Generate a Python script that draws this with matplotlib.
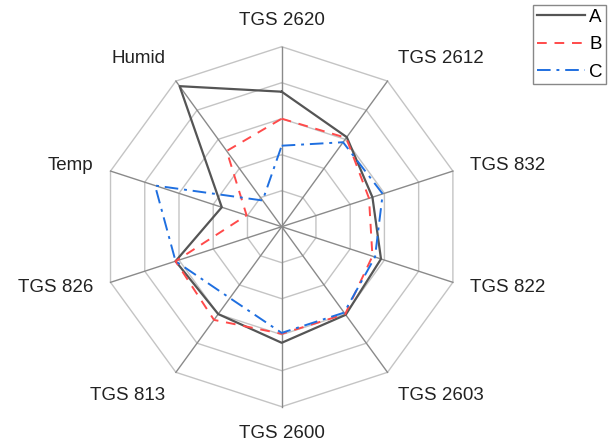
import matplotlib.pyplot as plt
import numpy as np

plt.rcParams['font.family'] = ['Liberation Sans', 'DejaVu Sans']

# axis labels, clockwise from top
labels = ['TGS 2620', 'TGS 2612', 'TGS 832', 'TGS 822', 'TGS 2603',
          'TGS 2600', 'TGS 813', 'TGS 826', 'Temp', 'Humid']

# series values (fraction of outer ring)
a_vals = [0.75, 0.615, 0.53, 0.58, 0.605, 0.645, 0.60, 0.62, 0.35, 0.965]
b_vals = [0.60, 0.61, 0.51, 0.53, 0.60, 0.595, 0.64, 0.62, 0.205, 0.52]
c_vals = [0.45, 0.58, 0.59, 0.545, 0.59, 0.59, 0.49, 0.62, 0.74, 0.18]

rings = [0.2, 0.4, 0.6, 0.8, 1.0]

n = len(labels)
ang = np.pi / 2 - np.arange(n) * 2 * np.pi / n

fig = plt.figure(figsize=(6.1, 4.47), dpi=100)
ax = fig.add_axes([0, 0, 1, 1])
cx, cy, R = 281.7, 226.7, 180.0
ax.set_xlim(-cx / R, (610 - cx) / R)
ax.set_ylim((cy - 447) / R, cy / R)
ax.axis('off')

# grid rings and spokes
for r in rings:
    xs = np.append(r * np.cos(ang), r * np.cos(ang[0]))
    ys = np.append(r * np.sin(ang), r * np.sin(ang[0]))
    ax.plot(xs, ys, color='#c4c4c4', lw=1.0, zorder=1)
for t in ang:
    ax.plot([0, np.cos(t)], [0, np.sin(t)], color='#8a8a8a', lw=1.0, zorder=1)


def draw(vals, **kw):
    v = np.array(vals)
    xs = np.append(v * np.cos(ang), v[0] * np.cos(ang[0]))
    ys = np.append(v * np.sin(ang), v[0] * np.sin(ang[0]))
    ax.plot(xs, ys, zorder=3, **kw)


draw(a_vals, color='#555555', lw=1.6, label='A')
draw(b_vals, color='#ff4a4a', lw=1.4, ls=(0, (5, 4)), label='B')
draw(c_vals, color='#1f6fe0', lw=1.4, ls=(0, (7, 3, 1.5, 3)), label='C')

# labels
for lab, t in zip(labels, ang):
    c, s = np.cos(t), np.sin(t)
    if abs(c) < 0.1:
        ha = 'center'
    elif c > 0:
        ha = 'left'
    else:
        ha = 'right'
    if abs(s) < 0.4:
        va = 'center'
    elif s > 0:
        va = 'bottom'
    else:
        va = 'top'
    ax.text(1.1 * c, 1.1 * s, lab, ha=ha, va=va, fontsize=13.5, color='#222222')

leg = ax.legend(loc='upper right', bbox_to_anchor=(0.994, 0.989), fontsize=13.5,
                handlelength=2.6, handletextpad=0.2, borderpad=0.2,
                labelspacing=0.55, fancybox=False, framealpha=1,
                borderaxespad=0)
leg.get_frame().set_edgecolor('#888888')
leg.get_frame().set_linewidth(1.0)

plt.savefig('out.png', dpi=100)
